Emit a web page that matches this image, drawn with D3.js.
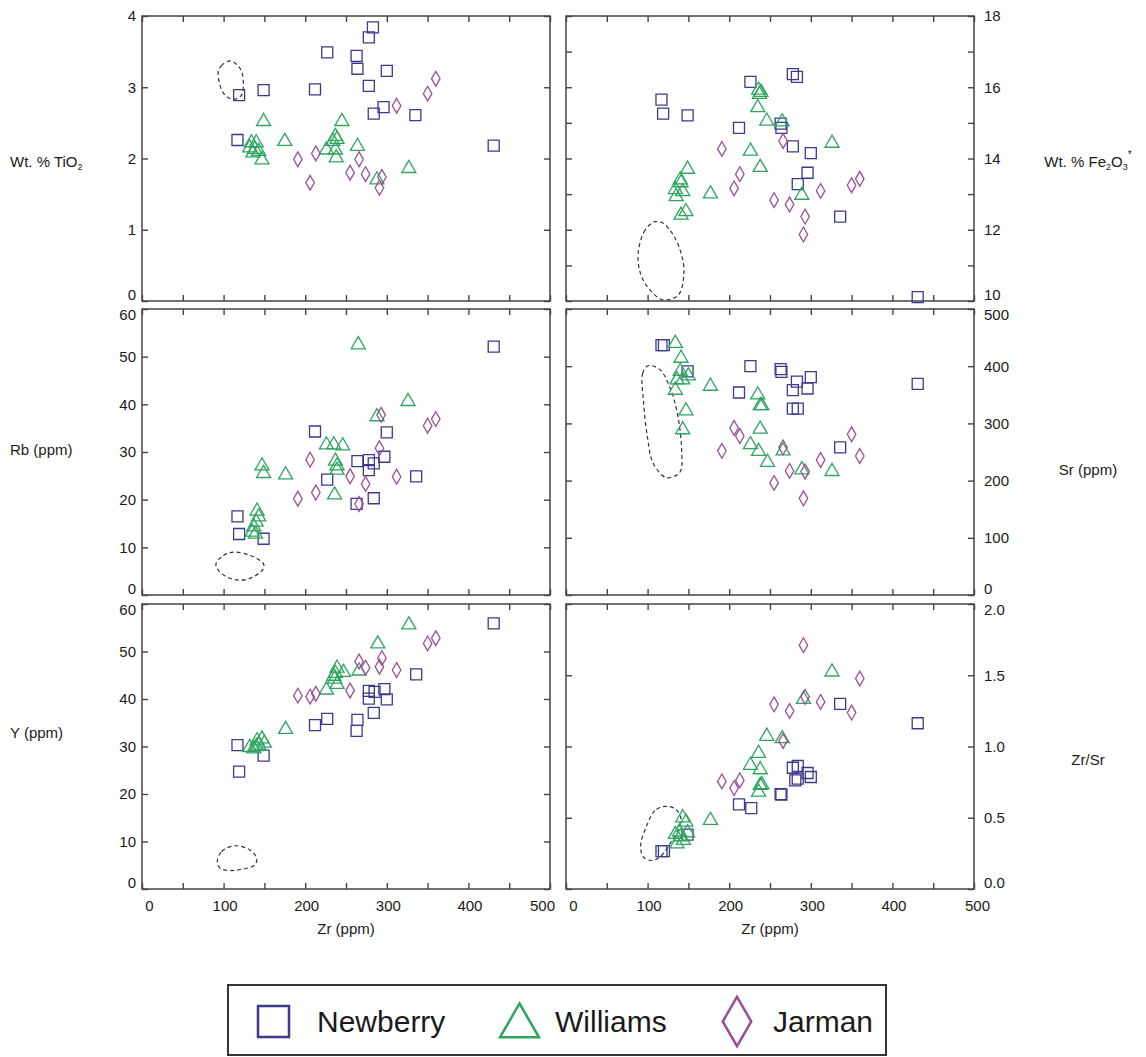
<!DOCTYPE html>
<html>
<head>
<meta charset="utf-8">
<script src="https://cdn.jsdelivr.net/npm/d3@7"></script>
<style>
  body { margin: 0; background: #fff; }
  svg { display: block; }
  text { font-family: Arial, "Liberation Sans", Helvetica, sans-serif; fill: #1a1a1a; }
</style>
</head>
<body>
<svg id="chart" width="1146" height="1057"></svg>
<script>
// ---- Zr (ppm) shared x axis ----
const zrDomain = [0, 500];
const zrTicks = [0, 50, 100, 150, 200, 250, 300, 350, 400, 450, 500];
const zrLabels = [0, 100, 200, 300, 400, 500];

// ---- Sample data: [Zr ppm, value] ----
// TiO2 (wt. %)
const newberryTiO2 = [[119,2.89],[149,2.96],[117,2.26],[227,3.49],[212,2.97],[263,3.44],[264,3.26],[283,3.84],[278,3.70],[300,3.23],[278,3.02],[296,2.72],[284,2.63],[335,2.61],[431,2.18]];
const williamsTiO2 = [[149,2.52],[134,2.22],[140,2.22],[132,2.15],[138,2.13],[143,2.10],[136,2.08],[147,1.98],[175,2.24],[245,2.52],[237,2.31],[239,2.27],[234,2.24],[226,2.12],[237,2.12],[238,2.01],[264,2.17],[288,1.70],[327,1.86]];
const jarmanTiO2 = [[191,1.99],[206,1.66],[213,2.07],[255,1.80],[266,1.99],[274,1.78],[294,1.74],[291,1.59],[312,2.74],[350,2.91],[360,3.12]];

// Fe2O3* (wt. %)
const newberryFe = [[117,15.65],[119,15.26],[149,15.21],[226,16.15],[278,16.37],[283,16.29],[212,14.86],[263,14.98],[264,14.86],[278,14.34],[300,14.15],[296,13.60],[284,13.28],[336,12.37],[431,10.11]];
const williamsFe = [[236,15.92],[239,15.86],[237,15.80],[235,15.43],[246,15.05],[265,15.03],[226,14.21],[238,13.75],[326,14.43],[289,12.97],[149,13.70],[141,13.32],[134,13.13],[143,13.07],[135,12.93],[140,13.40],[177,13.01],[147,12.51],[141,12.41]];
const jarmanFe = [[191,14.27],[213,13.56],[206,13.16],[266,14.49],[255,12.83],[274,12.71],[293,12.37],[291,11.87],[312,13.09],[350,13.25],[360,13.43]];

// Rb (ppm)
const newberryRb = [[117,16.5],[119,12.8],[149,11.8],[212,34.3],[227,24.2],[264,28.1],[278,28.3],[278,26.2],[284,27.6],[297,29.0],[300,34.1],[263,19.1],[284,20.3],[336,24.9],[431,52.1]];
const williamsRb = [[265,52.5],[326,40.6],[288,37.4],[147,27.1],[149,25.5],[176,25.2],[226,31.5],[235,31.5],[246,31.3],[237,28.1],[239,27.1],[239,26.2],[236,21.0],[141,17.6],[143,16.4],[140,15.3],[137,14.3],[135,13.2],[139,12.8]];
const jarmanRb = [[191,20.2],[206,28.4],[213,21.5],[255,24.9],[266,19.1],[274,23.3],[291,30.8],[293,37.8],[312,24.8],[350,35.5],[360,36.9]];

// Sr (ppm)
const newberrySr = [[117,437],[120,437],[149,391],[226,400],[212,354],[263,395],[264,390],[283,373],[278,358],[300,381],[296,361],[278,326],[284,326],[336,258],[431,369]];
const williamsSr = [[134,440],[141,414],[140,391],[136,376],[143,376],[150,383],[134,358],[147,322],[143,289],[177,365],[235,350],[238,331],[240,331],[238,290],[226,263],[236,251],[247,232],[266,252],[289,219],[326,216]];
const jarmanSr = [[191,252],[206,292],[213,278],[255,196],[266,258],[274,217],[293,216],[291,169],[312,236],[350,281],[360,243]];

// Y (ppm)
const newberryY = [[117,30.3],[119,24.7],[149,28.1],[212,34.5],[227,35.8],[264,35.6],[263,33.3],[284,37.1],[278,40.1],[278,41.7],[285,41.5],[297,42.1],[300,39.9],[336,45.2],[431,55.9]];
const williamsY = [[327,55.6],[289,51.6],[239,46.5],[237,45.4],[235,44.8],[247,45.6],[266,45.9],[226,41.9],[239,43.1],[236,44.2],[176,33.6],[147,31.6],[141,31.2],[150,30.7],[132,29.8],[137,29.5],[143,30.3],[140,30.0]];
const jarmanY = [[191,40.7],[206,40.5],[213,41.1],[255,41.8],[266,47.9],[274,46.6],[291,46.8],[294,48.6],[312,46.1],[350,51.7],[360,52.8]];

// Zr/Sr
const newberryZrSr = [[117,0.266],[120,0.266],[149,0.381],[212,0.594],[227,0.568],[263,0.666],[264,0.662],[278,0.851],[284,0.863],[281,0.762],[284,0.775],[296,0.814],[300,0.786],[336,1.299],[431,1.163]];
const williamsZrSr = [[326,1.523],[291,1.331],[246,1.072],[265,1.055],[236,0.952],[226,0.868],[238,0.837],[238,0.727],[240,0.732],[236,0.680],[177,0.482],[143,0.500],[147,0.470],[134,0.383],[140,0.367],[144,0.341],[136,0.317],[149,0.395],[139,0.400]];
const jarmanZrSr = [[291,1.711],[360,1.477],[293,1.348],[312,1.313],[255,1.296],[274,1.249],[350,1.238],[266,1.039],[191,0.755],[213,0.762],[206,0.708]];

// ---- Comparison field outlines (dashed), [Zr ppm, value] ----
const fieldTiO2 = [[108,3.37],[98,3.31],[93.5,3.22],[95.6,3.03],[101.7,2.89],[112,2.83],[122,2.89],[124.2,3.05],[122.1,3.22],[116,3.32]];
const fieldFe = [[109,12.23],[97,11.99],[88.6,11.38],[90.7,10.82],[101,10.36],[119,10.03],[137.7,10.17],[144.6,10.82],[140.5,11.38],[131.5,11.85],[119.3,12.18]];
const fieldRb = [[90.7,6.6],[99.7,8.3],[112,9.0],[132.4,8.3],[148.7,6.6],[148.7,5.5],[136.4,3.8],[120,3.1],[103.8,3.8],[92.3,5.5]];
const fieldSr = [[101,401],[94,388],[94.8,341],[99.7,277],[107,230],[123.4,205],[139.7,215],[141.7,253],[136.4,318],[127.5,362],[115.2,394]];
const fieldY = [[92.3,5.7],[97.6,7.9],[114,9.1],[132.4,8.2],[140.5,6.5],[138.5,5.1],[124.2,4.2],[107.8,3.9],[95.6,4.4]];
const fieldZrSr = [[121.3,0.58],[109,0.55],[99,0.446],[91.5,0.306],[94.8,0.224],[105,0.20],[115,0.224],[127.5,0.317],[137.7,0.423],[140.5,0.505],[133.6,0.563]];

// ---- Groups ----
const groupNames = ["Newberry", "Williams", "Jarman"];
const groupColors = ["#3b3a8c", "#2da55e", "#9c4f98"];
const groupSymbols = [d3.symbolSquare, d3.symbolTriangle, d3.symbolDiamond];
const markerSizes = [121, 85, 63];
const legendSizes = [961, 658, 705];

// ---- Layout ----
const cols = [{ x0: 142, x1: 550 }, { x0: 566, x1: 974 }];
const rows = [{ y0: 16, y1: 301 }, { y0: 309, y1: 595 }, { y0: 604, y1: 889 }];

const panels = [
  { col: 0, row: 0, domain: [0, 4], step: 1, labelStep: 1, fmt: d3.format("d"),
    title: [["Wt. % TiO", 0], ["2", -1]], titleY: 167,
    series: [newberryTiO2, williamsTiO2, jarmanTiO2], field: fieldTiO2 },
  { col: 1, row: 0, domain: [10, 18], step: 1, labelStep: 2, fmt: d3.format("d"),
    title: [["Wt. % Fe", 0], ["2", -1], ["O", 0], ["3", -1], ["*", 1]], titleY: 167,
    series: [newberryFe, williamsFe, jarmanFe], field: fieldFe },
  { col: 0, row: 1, domain: [0, 60], step: 10, labelStep: 10, fmt: d3.format("d"),
    title: [["Rb (ppm)", 0]], titleY: 455,
    series: [newberryRb, williamsRb, jarmanRb], field: fieldRb },
  { col: 1, row: 1, domain: [0, 500], step: 100, labelStep: 100, fmt: d3.format("d"),
    title: [["Sr (ppm)", 0]], titleY: 475,
    series: [newberrySr, williamsSr, jarmanSr], field: fieldSr },
  { col: 0, row: 2, domain: [0, 60], step: 10, labelStep: 10, fmt: d3.format("d"),
    title: [["Y (ppm)", 0]], titleY: 738,
    series: [newberryY, williamsY, jarmanY], field: fieldY },
  { col: 1, row: 2, domain: [0, 2], step: 0.5, labelStep: 0.5, fmt: d3.format(".1f"),
    title: [["Zr/Sr", 0]], titleY: 765,
    series: [newberryZrSr, williamsZrSr, jarmanZrSr], field: fieldZrSr }
];

const svg = d3.select("#chart");
const tickLen = 6;
const fieldLine = d3.line().curve(d3.curveCatmullRomClosed.alpha(0.5));

function stepValues(lo, hi, step) {
  const n = Math.round((hi - lo) / step);
  return d3.range(n + 1).map(i => +(lo + i * step).toFixed(6));
}

panels.forEach(p => {
  const c = cols[p.col], r = rows[p.row];
  const x = d3.scaleLinear().domain(zrDomain).range([c.x0, c.x1]);
  const y = d3.scaleLinear().domain(p.domain).range([r.y1, r.y0]);
  const g = svg.append("g");

  // inward ticks on all four sides
  const yAll = stepValues(p.domain[0], p.domain[1], p.step);
  const yLab = stepValues(p.domain[0], p.domain[1], p.labelStep);
  const axes = [
    [d3.axisBottom(x).tickValues(zrTicks), `translate(0,${r.y1})`],
    [d3.axisTop(x).tickValues(zrTicks), `translate(0,${r.y0})`],
    [d3.axisLeft(y).tickValues(yAll), `translate(${c.x0},0)`],
    [d3.axisRight(y).tickValues(yAll), `translate(${c.x1},0)`]
  ];
  axes.forEach(([ax, tr]) => {
    const a = g.append("g").attr("transform", tr)
      .call(ax.tickSizeInner(-tickLen).tickSizeOuter(0).tickFormat(""));
    a.select(".domain").remove();
    a.selectAll("line").attr("stroke", "#444").attr("stroke-width", 1.4);
  });

  // y tick labels (left column on the left, right column on the right)
  const yLabAxis = (p.col === 0 ? d3.axisLeft(y).tickPadding(6) : d3.axisRight(y).tickPadding(10))
    .tickValues(yLab).tickSize(0).tickFormat(p.fmt);
  const ya = g.append("g").attr("transform", `translate(${p.col === 0 ? c.x0 : c.x1},0)`).call(yLabAxis);
  ya.select(".domain").remove();
  ya.selectAll("text").attr("font-size", 15).attr("fill", "#1a1a1a")
    .attr("font-family", "Arial, 'Liberation Sans', sans-serif")
    .attr("transform", d => {
      if (d === p.domain[0]) return "translate(0,-6)";
      if (d === p.domain[1] && p.row > 0) return "translate(0,6)";
      return null;
    });

  // x tick labels on the bottom row
  if (p.row === 2) {
    const xa = g.append("g").attr("transform", `translate(0,${r.y1})`)
      .call(d3.axisBottom(x).tickValues(zrLabels).tickSize(0).tickPadding(11).tickFormat(d3.format("d")));
    xa.select(".domain").remove();
    xa.selectAll("text").attr("font-size", 15).attr("fill", "#1a1a1a")
      .attr("font-family", "Arial, 'Liberation Sans', sans-serif")
      .attr("dx", d => d === 0 ? 7 : (d === 500 ? (p.col === 0 ? -8 : 3) : 1));
    g.append("text")
      .attr("x", (c.x0 + c.x1) / 2).attr("y", 934)
      .attr("text-anchor", "middle").attr("font-size", 15)
      .text("Zr (ppm)");
  }

  // panel frame
  g.append("rect")
    .attr("x", c.x0).attr("y", r.y0)
    .attr("width", c.x1 - c.x0).attr("height", r.y1 - r.y0)
    .attr("fill", "none").attr("stroke", "#444").attr("stroke-width", 1.5);

  // dashed comparison field
  g.append("path")
    .attr("d", fieldLine(p.field.map(d => [x(d[0]), y(d[1])])))
    .attr("fill", "none").attr("stroke", "#333")
    .attr("stroke-width", 1.2).attr("stroke-dasharray", "4,3");

  // sample markers
  p.series.forEach((data, gi) => {
    const sym = d3.symbol().type(groupSymbols[gi]).size(markerSizes[gi]);
    g.append("g").selectAll("path").data(data).join("path")
      .attr("transform", d => `translate(${x(d[0])},${y(d[1])})`)
      .attr("d", sym)
      .attr("fill", "none")
      .attr("stroke", groupColors[gi])
      .attr("stroke-width", 1.3);
  });

  // axis title with sub/superscripts
  const t = svg.append("text")
    .attr("x", p.col === 0 ? 10 : 1088)
    .attr("y", p.titleY)
    .attr("text-anchor", p.col === 0 ? "start" : "middle")
    .attr("font-size", 15);
  p.title.forEach(([s, shift]) => {
    const ts = t.append("tspan").text(s);
    if (shift === -1) ts.attr("font-size", 9).attr("dy", 3);
    if (shift === 1) ts.attr("font-size", 10).attr("dy", -9);
    if (shift === 0 && t.selectAll("tspan").size() > 1) ts.attr("dy", 0);
  });
  // reset baseline after scripted pieces
  let offset = 0;
  t.selectAll("tspan").each(function (_, i) {
    const [s, shift] = p.title[i];
    const want = shift === -1 ? 3 : (shift === 1 ? -9 : 0);
    d3.select(this).attr("dy", want - offset);
    offset = want;
  });
});

// ---- Legend ----
const legend = svg.append("g");
legend.append("rect")
  .attr("x", 228).attr("y", 985).attr("width", 658).attr("height", 70)
  .attr("fill", "none").attr("stroke", "#333").attr("stroke-width", 2);
const legendMarkX = [273.5, 519.5, 737];
const legendMarkY = [1021.5, 1026, 1021.5];
const legendTextX = [317, 555, 773];
groupNames.forEach((name, i) => {
  legend.append("path")
    .attr("transform", `translate(${legendMarkX[i]},${legendMarkY[i]})`)
    .attr("d", d3.symbol().type(groupSymbols[i]).size(legendSizes[i]))
    .attr("fill", "none").attr("stroke", groupColors[i]).attr("stroke-width", 2.5);
  legend.append("text")
    .attr("x", legendTextX[i]).attr("y", 1032)
    .attr("font-size", 30)
    .text(name);
});
</script>
</body>
</html>
